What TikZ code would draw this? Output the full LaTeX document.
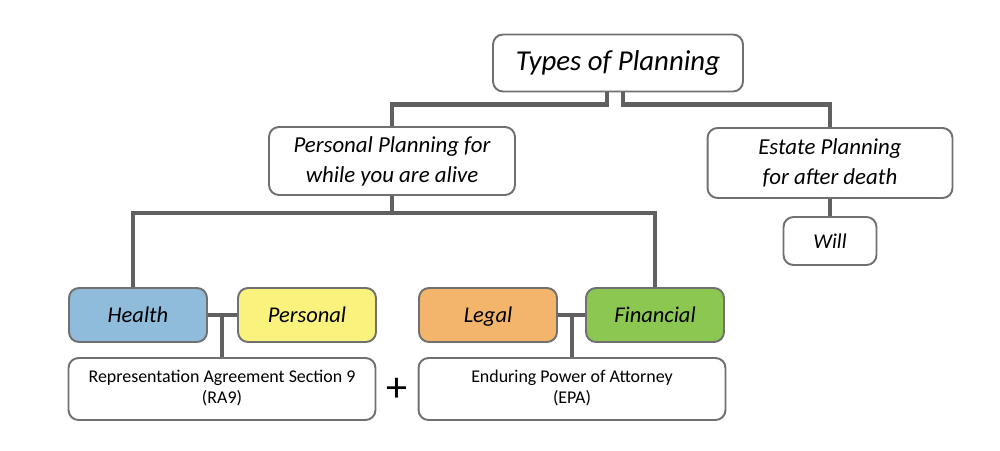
\documentclass[tikz,border=0pt]{standalone}
\usepackage{fontspec}
\setmainfont{Carlito}
\usepackage{tikz}
\usetikzlibrary{calc,positioning}
\definecolor{linegray}{HTML}{606060}
\definecolor{boxgray}{HTML}{707070}
\definecolor{healthblue}{HTML}{8FBCDB}
\definecolor{personalyellow}{HTML}{F9F27C}
\definecolor{legalorange}{HTML}{F2B56B}
\definecolor{financialgreen}{HTML}{8CC751}
\tikzset{
	box/.style={draw=boxgray, line width=1.1pt, rounded corners=0.2cm, fill=white, align=center, inner sep=0pt},
	topbox/.style={box, minimum width=5cm, minimum height=1.14cm, font=\fontsize{16.4}{19}\selectfont\itshape},
	midbox/.style={box, minimum width=4.92cm, minimum height=1.36cm, font=\fontsize{13}{17}\selectfont\itshape},
	areabox/.style={box, minimum width=2.76cm, minimum height=1.08cm, text height=2ex, text depth=0.1ex, font=\fontsize{12.8}{15}\selectfont\itshape},
	docbox/.style={box, minimum width=6.14cm, minimum height=1.24cm, text depth=0.6ex, font=\fontsize{10.2}{11.8}\selectfont},
	link/.style={draw=linegray, line width=2.8pt}
}
\begin{document}
\begin{tikzpicture}[x=0.02cm, y=0.02cm]
			\useasboundingbox (0,0) rectangle (1000,-450);
			\node[topbox] (types) at (618,-63) {Types of Planning};
			\node[midbox] (personalplan) at (392,-161) {Personal Planning for\\while you are alive};
			\node[midbox, minimum width=4.9cm, minimum height=1.4cm] (estateplan) at (830,-163) {Estate Planning\\for after death};
			\node[box, minimum width=1.86cm, minimum height=0.96cm, font=\fontsize{12}{14}\selectfont\itshape] (will) at (830,-241) {Will};
			\node[areabox, fill=healthblue] (health) at (138,-315) {Health};
			\node[areabox, fill=personalyellow] (personal) at (307,-315) {Personal};
			\node[areabox, fill=legalorange] (legal) at (488,-315) {Legal};
			\node[areabox, fill=financialgreen] (financial) at (655,-315) {Financial};
			\node[docbox] (ra9) at (222,-389) {Representation Agreement Section 9\\(RA9)};
			\node[docbox] (epa) at (572,-389) {Enduring Power of Attorney\\(EPA)};
			\node[font=\fontsize{24}{24}\selectfont] (plus) at (397,-390) {+};
			\draw[link] ($(types.south)+(-11,0)$) -- ++(0,-12) -| (personalplan.north);
			\draw[link] ($(types.south)+(5,0)$) -- ++(0,-12) -| (estateplan.north);
			\draw[link] (estateplan.south) -- (will.north);
			\draw[link] (personalplan.south) -- ++(0,-17) coordinate (split);
			\draw[link] ($(health.north)+(-5,0)$) |- (split) -| (financial.north);
			\draw[link] (health.east) -- (personal.west);
			\draw[link] (ra9.north) -- (ra9.north |- health.east);
			\draw[link] (legal.east) -- (financial.west);
			\draw[link] (epa.north) -- (epa.north |- legal.east);
	\end{tikzpicture}
\end{document}
